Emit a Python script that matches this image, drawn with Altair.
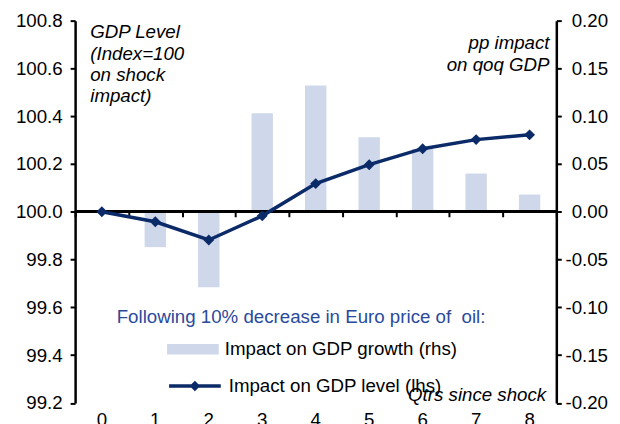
import altair as alt
import pandas as pd

quarters = ["0", "1", "2", "3", "4", "5", "6", "7", "8"]
growth_impact = [0.0, -0.037, -0.079, 0.103, 0.132, 0.078, 0.066, 0.040, 0.018]
level_impact = [100.0, 99.958, 99.882, 99.983, 100.118, 100.197, 100.264, 100.302, 100.322]
left_ticks = [99.2, 99.4, 99.6, 99.8, 100.0, 100.2, 100.4, 100.6, 100.8]
right_ticks = [-0.20, -0.15, -0.10, -0.05, 0.0, 0.05, 0.10, 0.15, 0.20]

BAR_LABEL = "Impact on GDP growth (rhs)"
LINE_LABEL = "Impact on GDP level (lhs)"
LEGEND_TITLE = "Following 10% decrease in Euro price of \u00a0oil:"
LEFT_NOTE = ["GDP Level", "(Index=100", "on shock", "impact)"]
RIGHT_NOTE = ["pp impact", "on qoq GDP"]
X_NOTE = "Qtrs since shock"

NAVY = "#0b2a68"
BAR_COLOR = "#cfd7ea"
TITLE_BLUE = "#2a4a9c"
FONT = "Liberation Sans"
FS = 18.8
W, H = 484, 384.5

df = pd.DataFrame({
    "q": quarters,
    "growth": growth_impact,
    "level": level_impact,
    "bar_s": [BAR_LABEL] * len(quarters),
    "line_s": [LINE_LABEL] * len(quarters),
})

xscale = alt.Scale(type="band", domain=quarters, paddingInner=0, paddingOuter=0)
lscale = alt.Scale(domain=[99.2, 100.8], nice=False, zero=False)
rscale = alt.Scale(domain=[-0.2, 0.2], nice=False)

base = alt.Chart(df)

bars = base.mark_bar(width={"band": 0.4}).encode(
    x=alt.X("q:N", scale=xscale, title=None,
            axis=alt.Axis(orient="bottom", domain=False, ticks=False, labelAngle=0,
                          labelPadding=8, labelFontSize=FS, labelFont=FONT,
                          labelColor="black")),
    y=alt.Y("growth:Q", scale=rscale, title=None,
            axis=alt.Axis(orient="right", values=right_ticks, domainColor="black",
                          domainWidth=2.5, tickColor="black", tickWidth=2, tickSize=5,
                          labelAlign="right", labelPadding=46.5, labelFontSize=FS,
                          labelFont=FONT, labelColor="black", grid=False,
                          labelExpr="datum.value < 0 ? '-' + format(-datum.value, '.2f') : format(datum.value, '.2f')")),
    fill=alt.Fill("bar_s:N", scale=alt.Scale(domain=[BAR_LABEL], range=[BAR_COLOR]),
                  legend=alt.Legend(orient="none", legendX=92.5, legendY=304.5, title=None,
                                    symbolType="M-1,-0.2H1V0.2H-1Z", symbolSize=2704,
                                    symbolStrokeWidth=0, symbolOpacity=1,
                                    labelFontSize=FS, labelFont=FONT, labelColor="black",
                                    labelOffset=6, padding=0, labelLimit=400)),
)

zero_rule = base.mark_rule(color="black", strokeWidth=2.5).encode(
    y=alt.YDatum(0, scale=rscale, axis=None),
)

line = base.mark_line(strokeWidth=3.5).encode(
    x=alt.X("q:N", scale=xscale, title=None,
            axis=alt.Axis(orient="bottom", offset=-H / 2, labels=False, domain=False,
                          ticks=True, tickBand="extent", tickSize=5, tickWidth=2,
                          tickColor="black")),
    y=alt.Y("level:Q", scale=lscale, title=None,
            axis=alt.Axis(orient="left", values=left_ticks, format=".1f",
                          domainColor="black", domainWidth=2.5, tickColor="black",
                          tickWidth=2, tickSize=5, labelPadding=8, labelFontSize=FS,
                          labelFont=FONT, labelColor="black", grid=False)),
    stroke=alt.Stroke("line_s:N", scale=alt.Scale(domain=[LINE_LABEL], range=[NAVY]),
                      legend=alt.Legend(orient="none", legendX=92.5, legendY=339.5, title=None,
                                        symbolType="M-1,0H1M0,-0.11L0.11,0L0,0.11L-0.11,0Z",
                                        symbolSize=2704, symbolStrokeWidth=3.5,
                                        symbolFillColor=NAVY,
                                        labelFontSize=FS, labelFont=FONT, labelColor="black",
                                        labelOffset=6, padding=0, labelLimit=400)),
)

points = base.mark_point(shape="diamond", filled=True, size=120, color=NAVY, opacity=1).encode(
    x=alt.X("q:N", scale=xscale, axis=None),
    y=alt.Y("level:Q", scale=lscale, axis=None),
)

one = pd.DataFrame({"k": [0]})

left_note = alt.Chart(one).mark_text(
    text=LEFT_NOTE, align="left", baseline="alphabetic", font=FONT, fontSize=FS,
    fontStyle="italic", color="black", lineHeight=21.5,
).encode(x=alt.value(15.2), y=alt.value(17.8))

right_note = alt.Chart(one).mark_text(
    text=RIGHT_NOTE, align="right", baseline="alphabetic", font=FONT, fontSize=FS,
    fontStyle="italic", color="black", lineHeight=21.7,
).encode(x=alt.value(477.2), y=alt.value(28.8))

x_note = alt.Chart(one).mark_text(
    text=X_NOTE, align="right", baseline="alphabetic", font=FONT, fontSize=FS,
    fontStyle="italic", color="black",
).encode(x=alt.value(473.8), y=alt.value(382.2))

legend_title = alt.Chart(one).mark_text(
    text=LEGEND_TITLE, align="left", baseline="alphabetic", font=FONT, fontSize=FS,
    color=TITLE_BLUE,
).encode(x=alt.value(41.8), y=alt.value(303.8))

chart = alt.layer(
    bars, zero_rule, line, points, left_note, right_note, x_note, legend_title
).resolve_scale(
    y="independent"
).resolve_axis(
    x="independent", y="independent"
).resolve_legend(
    fill="independent", stroke="independent"
).properties(
    width=W, height=H,
    autosize=alt.AutoSizeParams(type="none"),
    padding={"left": 67.5, "top": 11.5, "right": 56, "bottom": 20},
    background="white",
).configure_view(stroke=None)

chart.save("out.html", embed_options={"renderer": "svg", "actions": False})
